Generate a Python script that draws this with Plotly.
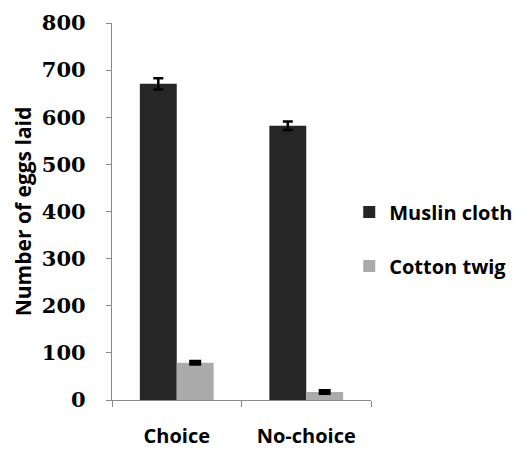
import plotly.graph_objects as go

categories = ["Choice", "No-choice"]
muslin = [671, 582]
muslin_err = [12, 9]
cotton = [79, 17]
cotton_err = [3, 3]

fig = go.Figure()
fig.add_trace(go.Bar(
    x=categories, y=muslin, name="Muslin cloth",
    marker=dict(color="#262626", line=dict(width=0)),
    error_y=dict(type="data", array=muslin_err, color="black", thickness=2.5, width=5),
    legendgroup="a",
))
fig.add_trace(go.Bar(
    x=categories, y=cotton, name="Cotton twig",
    marker=dict(color="#ababab", line=dict(width=0)),
    error_y=dict(type="data", array=cotton_err, color="black", thickness=3, width=6),
    legendgroup="b",
))

# page body has an 8px default margin, so the figure is sized/offset to compensate
fig.update_layout(
    width=521, height=444,
    margin=dict(l=104, r=158, t=15, b=52, autoexpand=False),
    paper_bgcolor="white", plot_bgcolor="white",
    barmode="group", bargap=0.43, bargroupgap=0,
    font=dict(family="Open Sans", color="black"),
    showlegend=True,
    legend=dict(
        x=0.916, y=0.427, xanchor="left", yanchor="middle",
        font=dict(family="Open Sans", size=20, color="black", weight="bold"),
        tracegroupgap=25, traceorder="grouped",
        itemwidth=30,
    ),
    xaxis=dict(
        automargin=False,
        showline=True, linecolor="#8a8a8a", linewidth=1.2,
        ticks="outside", ticklen=6, tickcolor="#8a8a8a",
        tickson="boundaries", ticklabelstandoff=18,
        tickfont=dict(family="Open Sans", size=20, color="black", weight="bold"),
        showgrid=False, zeroline=False,
    ),
    yaxis=dict(
        automargin=False,
        range=[0, 800], tickvals=[0, 100, 200, 300, 400, 500, 600, 700, 800],
        showline=True, linecolor="#8a8a8a", linewidth=1.2,
        ticks="outside", ticklen=5, tickcolor="#8a8a8a",
        ticklabelstandoff=16,
        tickfont=dict(family="DejaVu Serif", size=21, color="black", weight="bold"),
        showgrid=False, zeroline=False,
        title=dict(text="Number of eggs laid", standoff=4,
                   font=dict(family="Open Sans", size=21, color="black", weight="bold")),
    ),
)

fig.write_html("out.html")
